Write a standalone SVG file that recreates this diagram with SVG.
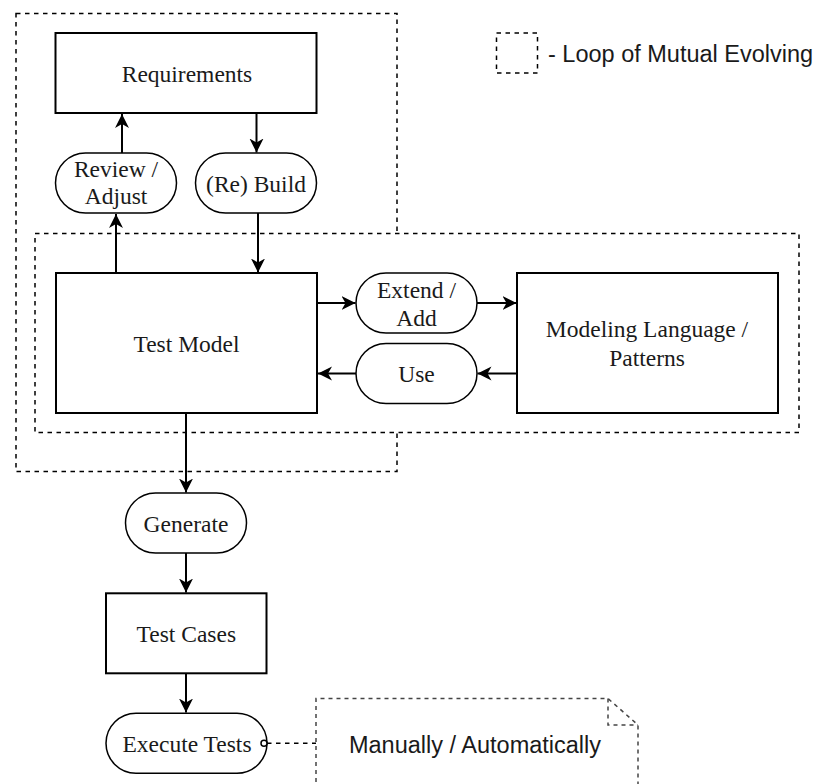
<svg xmlns="http://www.w3.org/2000/svg" width="821" height="784" viewBox="0 0 821 784">
<style>
.box{fill:#fff;stroke:#000;stroke-width:2}
.pill{fill:#fff;stroke:#000;stroke-width:1.5}
.loop{fill:none;stroke:#000;stroke-width:1.5;stroke-dasharray:4.5 4.5}
.loopw{fill:#fff;stroke:#000;stroke-width:1.5;stroke-dasharray:4.5 4.5}
.edge{fill:none;stroke:#000;stroke-width:2;marker-end:url(#arr)}
.t{font-family:"Liberation Serif","Times New Roman",serif;font-size:23.5px;fill:#1a1a1a;text-anchor:middle}
.s{font-family:"Liberation Sans",Arial,sans-serif;font-size:23.5px;fill:#1a1a1a}
</style>
<defs>
<marker id="arr" markerUnits="userSpaceOnUse" markerWidth="18" markerHeight="18" refX="14" refY="7" orient="auto">
<path d="M0,0 L14,7 L0,14 L4,7 Z" fill="#000"/>
</marker>
</defs>
<rect width="821" height="784" fill="#fff"/>
<g id="outer-loop"><rect class="loop" x="16" y="13.5" width="381" height="458"/></g>
<g id="inner-loop"><rect class="loopw" x="35" y="233.5" width="764" height="199"/></g>
<g id="legend">
<rect class="loop" x="496.5" y="33" width="41" height="40"/>
<text class="s" x="548" y="62.3">- Loop of Mutual Evolving</text>
</g>
<g id="requirements">
<rect class="box" x="55.5" y="33" width="261" height="80"/>
<text class="t" x="187" y="81.5">Requirements</text>
</g>
<g id="review-adjust">
<rect class="pill" x="55.5" y="153" width="121" height="60" rx="30" ry="30"/>
<text class="t" x="116" y="177.3">Review /</text>
<text class="t" x="116" y="204.3">Adjust</text>
</g>
<g id="re-build">
<rect class="pill" x="195.5" y="153" width="121" height="60" rx="30" ry="30"/>
<text class="t" x="256" y="191.7">(Re) Build</text>
</g>
<g id="test-model">
<rect class="box" x="56" y="273" width="261" height="140"/>
<text class="t" x="186.5" y="351.7">Test Model</text>
</g>
<g id="extend-add">
<rect class="pill" x="356" y="273" width="121" height="60" rx="30" ry="30"/>
<text class="t" x="416.5" y="298.3">Extend /</text>
<text class="t" x="416.5" y="326">Add</text>
</g>
<g id="use">
<rect class="pill" x="356" y="343.5" width="121" height="60" rx="30" ry="30"/>
<text class="t" x="416.5" y="381.7">Use</text>
</g>
<g id="modeling-language">
<rect class="box" x="517" y="273" width="261" height="140"/>
<text class="t" x="647" y="337.3">Modeling Language /</text>
<text class="t" x="647" y="365.7">Patterns</text>
</g>
<g id="generate">
<rect class="pill" x="125.5" y="493" width="121" height="60" rx="30" ry="30"/>
<text class="t" x="186" y="531.7">Generate</text>
</g>
<g id="test-cases">
<rect class="box" x="106" y="593.3" width="160.5" height="80"/>
<text class="t" x="186.3" y="641.7">Test Cases</text>
</g>
<g id="execute-tests">
<rect class="pill" x="106" y="713.3" width="161" height="60" rx="30" ry="30"/>
<text class="t" x="187" y="751.7">Execute Tests</text>
</g>
<g id="note">
<path d="M316,790 L316,698.5 L608,698.5 L638,725 L638,790" fill="#fff" stroke="#444" stroke-width="1.5" stroke-dasharray="4 4"/>
<path d="M608,698.5 L608,725 L638,725" fill="none" stroke="#444" stroke-width="1.5" stroke-dasharray="4 4"/>
<text class="s" x="475" y="752.7" text-anchor="middle">Manually / Automatically</text>
</g>
<g id="connectors">
<line class="edge" x1="122" y1="153" x2="122" y2="114"/>
<line class="edge" x1="116" y1="273" x2="116" y2="214"/>
<line class="edge" x1="256.5" y1="114" x2="256.5" y2="152.5"/>
<line class="edge" x1="258" y1="213" x2="258" y2="272.5"/>
<line class="edge" x1="318" y1="303" x2="355.5" y2="303"/>
<line class="edge" x1="477" y1="303" x2="516.5" y2="303"/>
<line class="edge" x1="516" y1="373.5" x2="477.5" y2="373.5"/>
<line class="edge" x1="356" y1="373.5" x2="318" y2="373.5"/>
<line class="edge" x1="186" y1="414" x2="186" y2="492.5"/>
<line class="edge" x1="186" y1="553" x2="186" y2="592.5"/>
<line class="edge" x1="186" y1="674" x2="186" y2="712.5"/>
<line x1="267" y1="743.3" x2="316" y2="743.3" stroke="#000" stroke-width="1.5" stroke-dasharray="4.5 4.5"/>
<circle cx="264" cy="743.3" r="3" fill="#fff" stroke="#000" stroke-width="1.5"/>
</g>
</svg>
